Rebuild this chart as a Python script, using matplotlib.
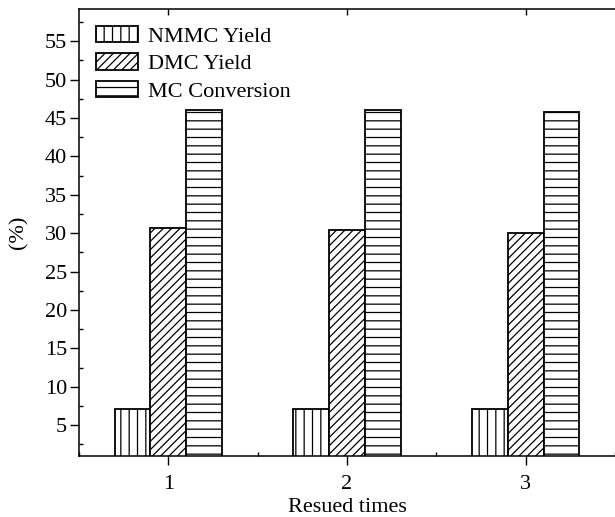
import numpy as np
import matplotlib
matplotlib.use('Agg')
import matplotlib.pyplot as plt
from matplotlib.ticker import MultipleLocator

plt.rcParams['font.family'] = ['Liberation Serif', 'DejaVu Serif']
plt.rcParams['hatch.linewidth'] = 0.9

times = [1, 2, 3]
nmmc_yield = [7.1, 7.1, 7.1]
dmc_yield = [30.7, 30.4, 30.0]
mc_conversion = [46.1, 46.0, 45.8]

x = np.array(times)
w = 0.2

fig = plt.figure(figsize=(6.15, 5.17), dpi=100)
ax = fig.add_axes([79 / 615, 1 - 456 / 517, 536 / 615, 447 / 517])

ax.bar(x - w, nmmc_yield, w, color='white', edgecolor='black', hatch='||',
       linewidth=1.3, label='NMMC Yield')
ax.bar(x, dmc_yield, w, color='white', edgecolor='black', hatch='////',
       linewidth=1.3, label='DMC Yield')
ax.bar(x + w, mc_conversion, w, color='white', edgecolor='black', hatch='--',
       linewidth=1.3, label='MC Conversion')

ax.set_xlim(0.5, 3.5)
ax.set_ylim(1, 59.2)
ax.set_xticks(times)
ax.set_yticks(np.arange(5, 60, 5))
ax.xaxis.set_minor_locator(MultipleLocator(0.5))
ax.yaxis.set_minor_locator(MultipleLocator(2.5))
ax.tick_params(axis='both', which='major', direction='out', length=6.5, width=1,
               labelsize=16, top=False, right=False)
ax.tick_params(axis='x', which='major', pad=7)
ax.tick_params(axis='y', which='major', pad=2)
ax.tick_params(which='minor', direction='in', length=3, width=1, top=False, right=False)
ax.spines['right'].set_visible(False)
for s in ['left', 'bottom', 'top']:
    ax.spines[s].set_linewidth(1.1)

# top ticks pointing inward
top = ax.secondary_xaxis('top')
top.set_xticks(times)
top.tick_params(direction='in', length=4, width=1, labeltop=False)
top.spines['top'].set_visible(False)

ax.set_xlabel('Resued times', fontsize=16, labelpad=3)
ax.set_ylabel('(%)', fontsize=16, labelpad=12)

ax.legend(loc='upper left', frameon=False, fontsize=16, handlelength=1.9,
          handleheight=0.75, labelspacing=0.3, handletextpad=0.45,
          borderpad=0.25, borderaxespad=0.5)

fig.savefig('out.png', dpi=100)
